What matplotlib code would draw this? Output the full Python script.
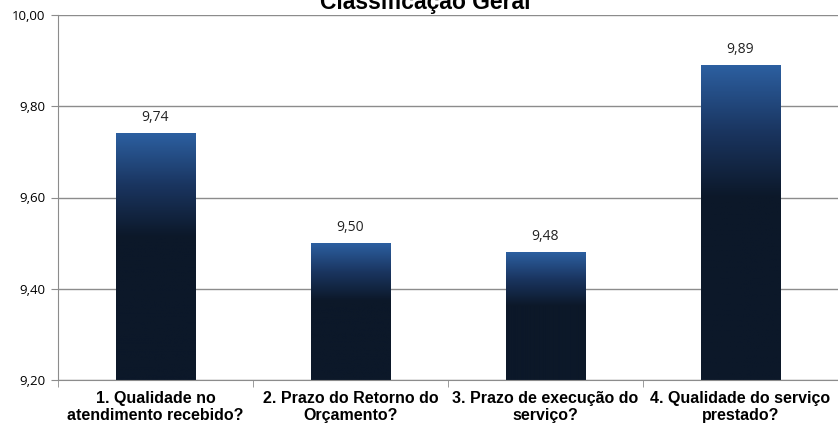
import matplotlib.pyplot as plt
import numpy as np
from matplotlib.colors import LinearSegmentedColormap

categories = ["1. Qualidade no\natendimento recebido?",
              "2. Prazo do Retorno do\nOrçamento?",
              "3. Prazo de execução do\nserviço?",
              "4. Qualidade do serviço\nprestado?"]
values = [9.74, 9.50, 9.48, 9.89]
y_ticks = [9.20, 9.40, 9.60, 9.80, 10.00]

fig = plt.figure(figsize=(8.38, 4.28), dpi=100)
ax = fig.add_axes([58/838, 1 - 380/428, 1 - 58/838, (380 - 15)/428])

ymin, ymax = 9.20, 10.00
cmap = LinearSegmentedColormap.from_list("bar", ["#0c1829", "#1a3560", "#2c5fa0"])
width = 0.41
x = np.arange(len(values))

# gradient bars
for xi, v in zip(x, values):
    h = v - ymin
    ys = np.linspace(ymin, v, 256)
    frac = np.clip((ys - (v - 0.42 * h)) / (0.42 * h), 0, 1)
    grad = frac[::-1].reshape(-1, 1)
    ax.imshow(grad, cmap=cmap, vmin=0, vmax=1, aspect="auto",
              extent=(xi - width/2, xi + width/2, ymin, v), zorder=2)
    ax.text(xi, v + 0.018, f"{v:.2f}".replace(".", ","), ha="center", va="bottom",
            fontsize=10, family="Open Sans", color="#222222")

ax.set_xlim(-0.5, len(values) - 0.5)
ax.set_ylim(ymin, ymax)
ax.set_yticks(y_ticks)
ax.set_yticklabels([f"{t:.2f}".replace(".", ",") for t in y_ticks],
                   fontsize=9.5, family="Open Sans")
ax.yaxis.grid(True, color="#8c8c8c", linewidth=1)
ax.set_axisbelow(True)

ax.set_xticks(x)
ax.set_xticklabels(categories, fontsize=11.5, fontweight="bold", family="Liberation Sans",
                   linespacing=1.15)
ax.tick_params(axis="x", which="major", length=0, pad=8)
ax.set_xticks(np.arange(-0.5, len(values), 1), minor=True)
ax.tick_params(axis="x", which="minor", length=5, color="#8c8c8c", direction="out")
ax.tick_params(axis="y", length=5, color="#8c8c8c", pad=4)

for s in ["top", "right"]:
    ax.spines[s].set_visible(False)
for s in ["left", "bottom"]:
    ax.spines[s].set_color("#8c8c8c")

fig.text(0.508, 1 - 9/428, "Classificação Geral", ha="center", va="baseline",
         fontsize=16.5, fontweight="bold", family="Liberation Sans")

fig.savefig("out.png", dpi=100)
